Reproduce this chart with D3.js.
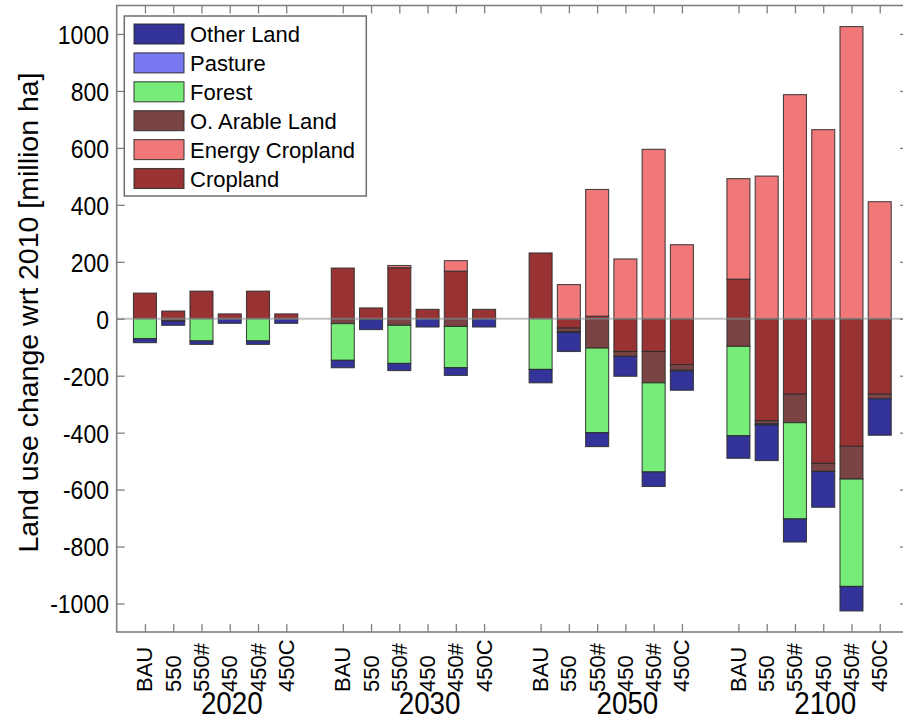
<!DOCTYPE html>
<html>
<head>
<meta charset="utf-8">
<script src="https://cdn.jsdelivr.net/npm/d3@7"></script>
<style>
  html, body { margin: 0; padding: 0; background: #fff; }
  svg { display: block; font-family: "Liberation Sans", Arial, sans-serif; }
</style>
</head>
<body>
<svg id="chart" width="903" height="719"></svg>
<script>
// Scenario groups and the scenarios inside each group
const years = ["2020", "2030", "2050", "2100"];
const scenarios = ["BAU", "550", "550#", "450", "450#", "450C"];

// Land use change wrt 2010 (million ha), one value per year x scenario (24 bars)
const cropland       = [ 90,  27,  97,  17,  97,  17,   178,  38, 179,  33, 167,  33,   231,  -33,    9, -115, -115, -161,   139, -358, -265, -508, -448, -265];
const energyCropland = [  0,   0,   0,   0,   0,   0,     0,   0,   8,   0,  37,   0,     0,  120,  445,  210,  595,  260,   353,  501,  787,  664, 1026,  411];
const otherArable    = [  0,  -8,   0,   0,   0,   0,   -17,   0, -23,   0, -27,   0,     0,  -12, -103,  -17, -110,  -20,   -97,  -11, -100,  -28, -115,  -16];
const forest         = [-70,   0, -78,   0, -78,   0,  -129,   0,-134,   0,-145,   0,  -178,    0, -297,    0, -313,    0,  -314,    0, -338,    0, -377,    0];
const pasture        = [  0,   0,   0,   0,   0,   0,     0,  -3,   0,   0,   0,   0,     0,   -3,    0,    0,    0,   -3,     0,   -4,    0,    0,    0,    0];
const otherLand      = [-14, -15, -12, -16, -12, -16,   -26, -35, -25, -29, -27, -29,   -47,  -67,  -49,  -70,  -51,  -67,   -79, -125,  -81, -126,  -86, -128];

const yTicks = [-1000, -800, -600, -400, -200, 0, 200, 400, 600, 800, 1000];

// Series in stacking order (outward from zero); legend lists them in reverse
const series = [
  { key: "Cropland",        values: cropland,       color: "#993333" },
  { key: "Energy Cropland", values: energyCropland, color: "#f07878" },
  { key: "O. Arable Land",  values: otherArable,    color: "#7a4444" },
  { key: "Forest",          values: forest,         color: "#78ec78" },
  { key: "Pasture",         values: pasture,        color: "#7878f0" },
  { key: "Other Land",      values: otherLand,      color: "#333399" }
];
const colorOf = Object.fromEntries(series.map(s => [s.key, s.color]));

// One row per bar; slot index leaves an empty slot between year groups
const rows = [];
years.forEach((yr, g) => {
  scenarios.forEach((sc, s) => {
    const i = g * scenarios.length + s;
    const row = { year: yr, scenario: sc, slot: g * 7 + s };
    series.forEach(se => { row[se.key] = se.values[i]; });
    rows.push(row);
  });
});

const svg = d3.select("#chart");

const x = d3.scaleLinear().domain([-1, 27]).range([116.7, 908]);
const y = d3.scaleLinear().domain([-1100, 1100]).range([632, 5.5]);
const barW = 23;

const stacked = d3.stack()
  .keys(series.map(s => s.key))
  .order(d3.stackOrderNone)
  .offset(d3.stackOffsetDiverging)(rows);

// Bars
const layers = svg.append("g").selectAll("g")
  .data(stacked)
  .join("g")
  .attr("fill", d => colorOf[d.key]);

layers.selectAll("rect")
  .data(d => d.filter(p => p[1] - p[0] !== 0))
  .join("rect")
  .attr("x", d => x(d.data.slot) - barW / 2)
  .attr("width", barW)
  .attr("y", d => y(Math.max(d[0], d[1])))
  .attr("height", d => Math.abs(y(d[0]) - y(d[1])))
  .attr("stroke", "#2a2a2a")
  .attr("stroke-opacity", 0.85)
  .attr("stroke-width", 1.1);

// Zero reference line, drawn over the bars
svg.append("line")
  .attr("x1", x(-1)).attr("x2", x(27))
  .attr("y1", y(0)).attr("y2", y(0))
  .attr("stroke", "#9a9a9a")
  .attr("stroke-opacity", 0.6)
  .attr("stroke-width", 2);

// Axes box with inward ticks on all four sides
const axisColor = "#808080";
const slots = rows.map(r => r.slot);
const tickLen = 8;

const axisG = svg.append("g");
axisG.append("g")
  .attr("transform", `translate(0,${y.range()[0]})`)
  .call(d3.axisBottom(x).tickValues(slots).tickSize(-tickLen).tickFormat(""))
  .call(g => g.select(".domain").remove());
axisG.append("g")
  .attr("transform", `translate(0,${y.range()[1]})`)
  .call(d3.axisTop(x).tickValues(slots).tickSize(-tickLen).tickFormat(""))
  .call(g => g.select(".domain").remove());
axisG.append("g")
  .attr("transform", `translate(${x.range()[0]},0)`)
  .call(d3.axisLeft(y).tickValues(yTicks).tickSize(-tickLen).tickFormat(""))
  .call(g => g.select(".domain").remove());
axisG.append("g")
  .attr("transform", `translate(${x.range()[1]},0)`)
  .call(d3.axisRight(y).tickValues(yTicks).tickSize(-tickLen).tickFormat(""))
  .call(g => g.select(".domain").remove());
axisG.selectAll(".tick line").attr("stroke", axisColor).attr("stroke-width", 1.3);

axisG.append("rect")
  .attr("x", x.range()[0]).attr("y", y.range()[1])
  .attr("width", x.range()[1] - x.range()[0])
  .attr("height", y.range()[0] - y.range()[1])
  .attr("fill", "none")
  .attr("stroke", axisColor)
  .attr("stroke-width", 1.6);

// Y tick labels
svg.append("g").selectAll("g")
  .data(yTicks)
  .join("g")
  .attr("transform", d => `translate(109,${y(d) + 1}) scale(0.92,1)`)
  .append("text")
  .attr("text-anchor", "end")
  .attr("dominant-baseline", "central")
  .attr("font-size", 25)
  .attr("fill", "#000")
  .text(d => d);

// Scenario labels, rotated
svg.append("g").selectAll("text")
  .data(rows)
  .join("text")
  .attr("transform", d => `translate(${x(d.slot)},692) rotate(-90)`)
  .attr("text-anchor", "start")
  .attr("dominant-baseline", "central")
  .attr("font-size", 22)
  .attr("fill", "#000")
  .text(d => d.scenario);

// Year group labels
svg.append("g").selectAll("g")
  .data(years)
  .join("g")
  .attr("transform", (d, g) => `translate(${x(g * 7 + 3) + 2},714) scale(0.91,1)`)
  .append("text")
  .attr("text-anchor", "middle")
  .attr("font-size", 30.5)
  .attr("fill", "#000")
  .text(d => d);

// Y axis title
svg.append("text")
  .attr("transform", "translate(37.5,312.5) rotate(-90)")
  .attr("text-anchor", "middle")
  .attr("font-size", 28.5)
  .attr("fill", "#000")
  .text("Land use change wrt 2010 [million ha]");

// Legend
const legendItems = series.slice().reverse();
const legend = svg.append("g");
legend.append("rect")
  .attr("x", 124.3).attr("y", 16)
  .attr("width", 242).attr("height", 180)
  .attr("fill", "#fff")
  .attr("stroke", "#6e6e6e")
  .attr("stroke-width", 1.5);
const rowsG = legend.selectAll("g")
  .data(legendItems)
  .join("g")
  .attr("transform", (d, i) => `translate(0,${34 + i * 28.9})`);
rowsG.append("rect")
  .attr("x", 134).attr("y", -10)
  .attr("width", 50).attr("height", 20)
  .attr("fill", d => d.color)
  .attr("stroke", "#2a2a2a")
  .attr("stroke-opacity", 0.85)
  .attr("stroke-width", 1.1);
rowsG.append("text")
  .attr("x", 190).attr("y", 8)
  .attr("font-size", 22)
  .attr("fill", "#000")
  .text(d => d.key);
</script>
</body>
</html>
